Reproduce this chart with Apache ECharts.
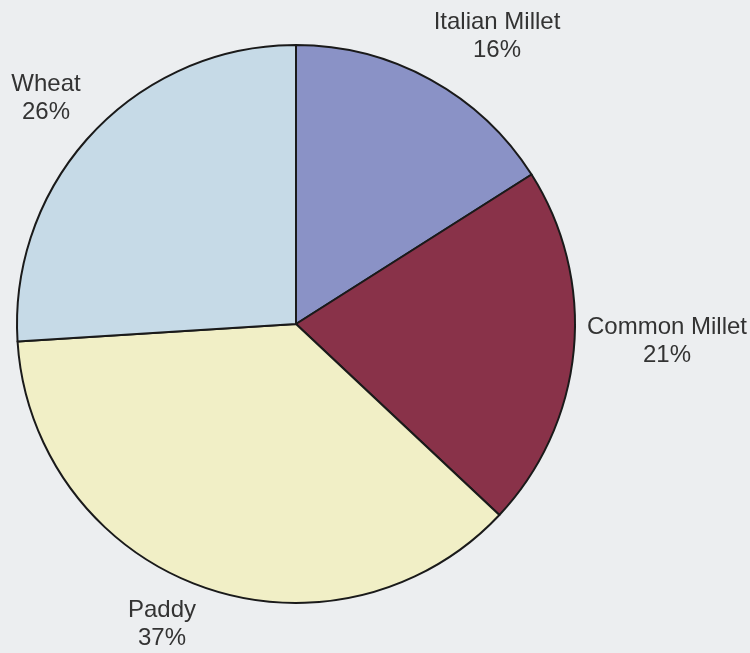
<!DOCTYPE html>
<html>
<head>
<meta charset="utf-8">
<script src="https://cdn.jsdelivr.net/npm/echarts@6/dist/echarts.min.js"></script>
<style>
  html, body { margin: 0; padding: 0; background: #eceef0; }
  #chart { width: 750px; height: 653px; }
</style>
</head>
<body>
<div id="chart"></div>
<script>
// Crop shares (percent), clockwise from 12 o'clock
const categories = ['Italian Millet', 'Common Millet', 'Paddy', 'Wheat'];
const shares = [16, 21, 37, 26];
const colors = ['#8a92c6', '#893249', '#f1efc6', '#c6dae7'];

// Label anchor points (block centres) for each slice, in pixels
const labelSpots = [[497, 36], [667, 341], [162, 624], [46, 98]];

const chart = echarts.init(document.getElementById('chart'));
chart.setOption({
  backgroundColor: '#eceef0',
  animation: false,
  series: [{
    type: 'pie',
    center: [296, 324],
    radius: 279,
    startAngle: 90,
    clockwise: true,
    avoidLabelOverlap: false,
    data: categories.map((name, i) => ({
      name: name,
      value: shares[i],
      itemStyle: { color: colors[i] }
    })),
    itemStyle: { borderColor: '#1a1a1a', borderWidth: 2 },
    label: {
      show: true,
      position: 'outside',
      formatter: p => p.name + '\n' + p.value + '%',
      fontFamily: 'Liberation Sans, Arial, sans-serif',
      fontSize: 24,
      lineHeight: 28,
      color: '#333333',
      align: 'center',
      overflow: 'none',
      width: 200
    },
    labelLine: { show: false },
    labelLayout: params => ({
      x: labelSpots[params.dataIndex][0],
      y: labelSpots[params.dataIndex][1],
      align: 'center',
      verticalAlign: 'middle'
    }),
    emphasis: { disabled: true }
  }]
});
</script>
</body>
</html>
